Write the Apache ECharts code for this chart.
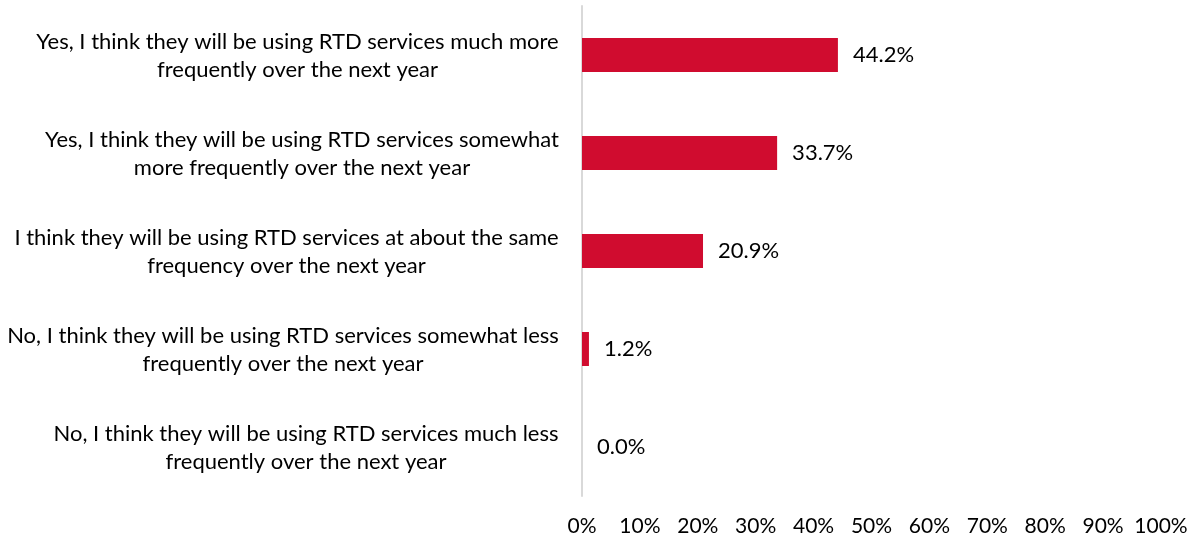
<!DOCTYPE html>
<html>
<head>
<meta charset="utf-8">
<script src="https://cdn.jsdelivr.net/npm/echarts@6/dist/echarts.min.js"></script>
<style>
  html, body { margin: 0; padding: 0; background: #fff; }
  #main { width: 1194px; height: 540px; }
</style>
</head>
<body>
<div id="main"></div>
<script>
// survey answers, top to bottom
var categories = [
  "Yes, I think they will be using RTD services much more\nfrequently over the next year",
  "Yes, I think they will be using RTD services somewhat\nmore frequently over the next year",
  "I think they will be using RTD services at about the same\nfrequency over the next year",
  "No, I think they will be using RTD services somewhat less\nfrequently over the next year",
  "No, I think they will be using RTD services much less\nfrequently over the next year"
];
var shares = [44.2, 33.7, 20.9, 1.2, 0.0];

var font = "Lato, 'Open Sans', sans-serif";
var catSize = 22;

// measure each label so its lines can be centred within its own block
var ctx = document.createElement("canvas").getContext("2d");
ctx.font = catSize + "px " + font;
var rich = {};
categories.forEach(function (c, i) {
  var w = 0;
  c.split("\n").forEach(function (s) { w = Math.max(w, ctx.measureText(s).width); });
  rich["c" + i] = {
    width: Math.ceil(w),
    align: "center",
    lineHeight: 28,
    padding: [2, 0, 0, 0],
    color: "#000",
    fontFamily: font,
    fontSize: catSize
  };
});

var myChart = echarts.init(document.getElementById("main"));

var option = {
  animation: false,
  grid: { left: 582, right: 33, top: 6, bottom: 44 },
  xAxis: {
    type: "value",
    min: 0,
    max: 100,
    interval: 10,
    axisLine: { show: false },
    axisTick: { show: false },
    splitLine: { show: false },
    axisLabel: {
      margin: 20,
      formatter: "{value}%",
      color: "#000",
      fontFamily: font,
      fontSize: 21
    }
  },
  yAxis: {
    type: "category",
    inverse: true,
    data: categories,
    axisTick: { show: false },
    axisLine: { lineStyle: { color: "#d9d9d9", width: 2 } },
    axisLabel: {
      margin: 23,
      color: "#000",
      fontFamily: font,
      fontSize: catSize,
      formatter: function (v, i) {
        return v.split("\n").map(function (s) { return "{c" + i + "|" + s + "}"; }).join("\n");
      },
      rich: rich
    }
  },
  series: [
    {
      type: "bar",
      data: shares,
      barWidth: 34,
      itemStyle: { color: "#d00c2f" },
      label: {
        show: true,
        position: "right",
        distance: 15,
        color: "#000",
        fontFamily: font,
        fontSize: 22,
        formatter: function (p) { return p.value.toFixed(1) + "%"; }
      }
    }
  ]
};

myChart.setOption(option);
</script>
</body>
</html>
